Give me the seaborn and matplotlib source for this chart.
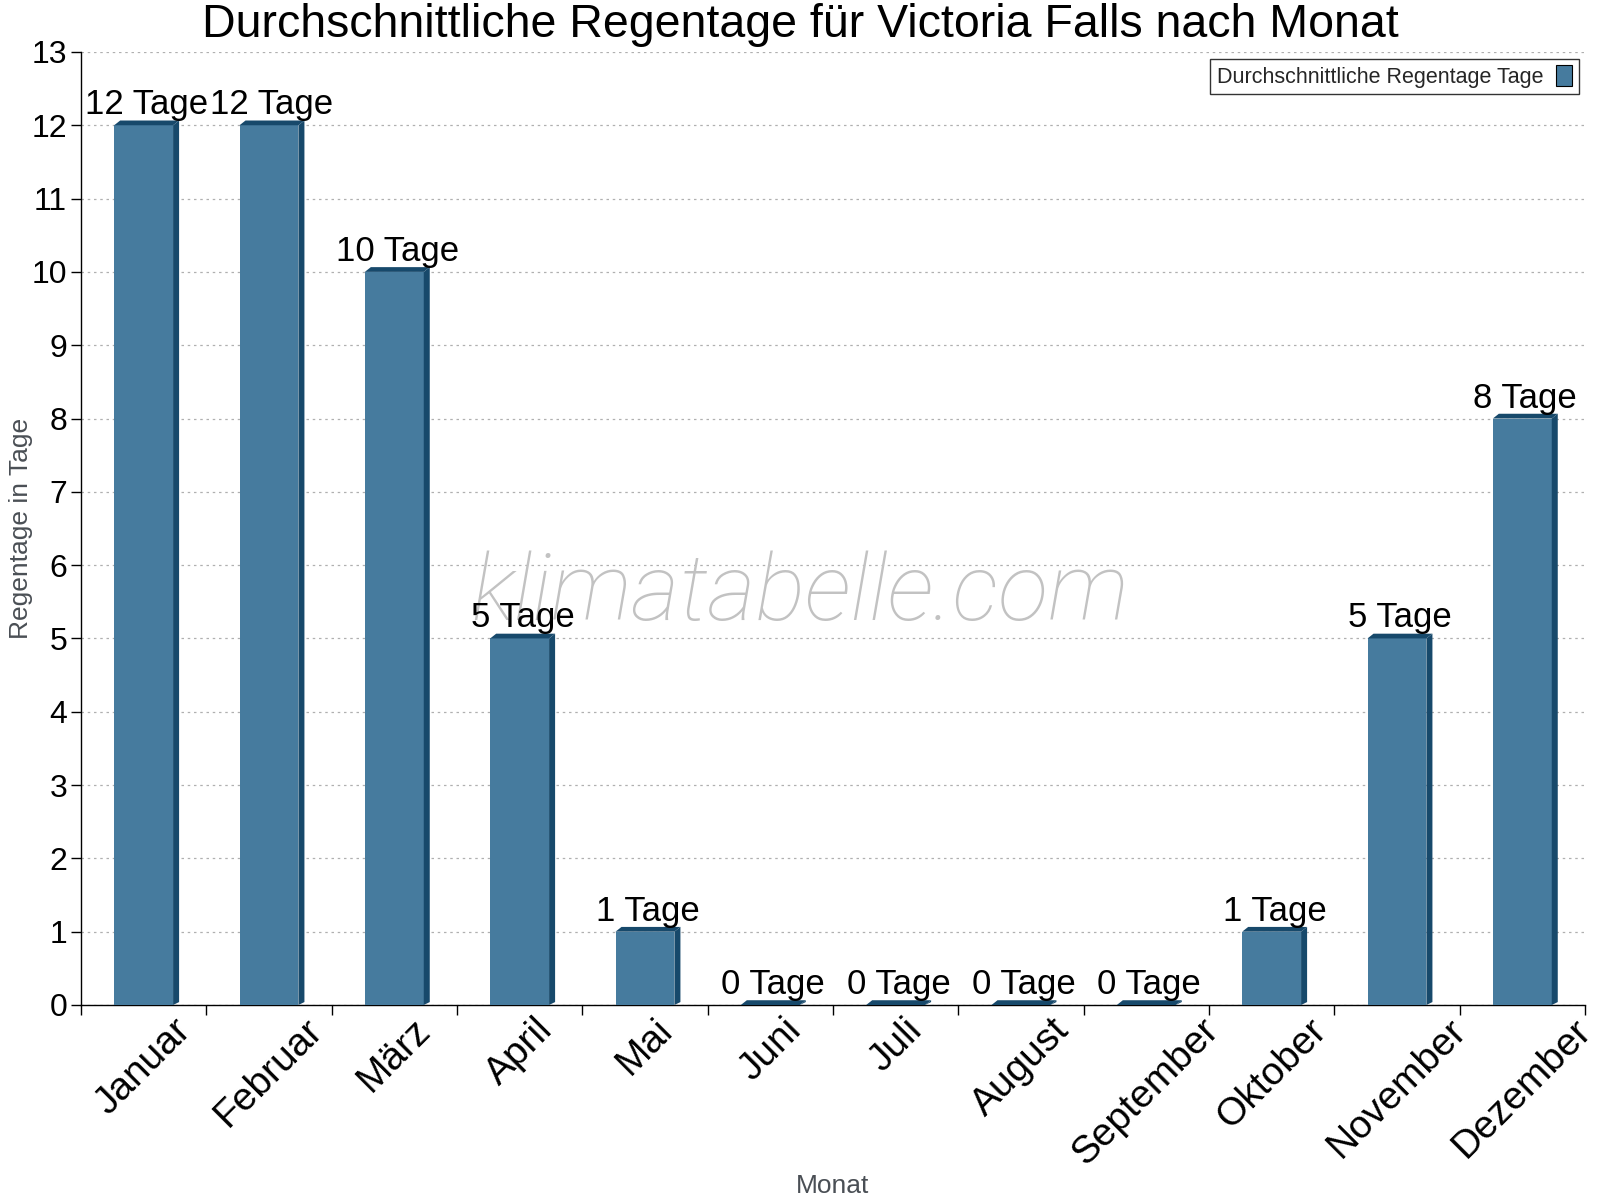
import matplotlib
matplotlib.use("Agg")
import matplotlib.pyplot as plt
import seaborn as sns
import pandas as pd
from matplotlib.patches import Polygon, Rectangle
from matplotlib.ticker import FixedLocator

sns.set_style("white")
plt.rcParams["font.family"] = ["Liberation Sans", "DejaVu Sans"]

months = ["Januar", "Februar", "März", "April", "Mai", "Juni", "Juli",
          "August", "September", "Oktober", "November", "Dezember"]
rain_days = [12, 12, 10, 5, 1, 0, 0, 0, 0, 1, 5, 8]
series_name = "Durchschnittliche Regentage Tage"

face = "#467b9e"
dark = "#17496b"

df = pd.DataFrame({"Monat": months, "Tage": rain_days})

fig = plt.figure(figsize=(16, 12), dpi=100)
ax = fig.add_axes([0.0506, 0.1625, 0.94, 0.7942])

# watermark sits behind bars and labels
ax.text(5.24, 5.25, "klimatabelle.com", fontsize=67, color="#c2c2c2",
        family=["Roboto", "DejaVu Sans"], fontweight=200, style="italic",
        ha="center", va="baseline", zorder=2)

sns.barplot(data=df, x="Monat", y="Tage", color=face, width=0.47,
            saturation=1, linewidth=0, ax=ax, zorder=3)

# 3d look: dark side on the right and a bevel on top
dx = 0.048
dy = 0.065
for bar, val in zip(ax.patches, rain_days):
    x0 = bar.get_x()
    w = bar.get_width()
    h = bar.get_height()
    side = Polygon([(x0 + w, 0), (x0 + w + dx, 0.04), (x0 + w + dx, h + dy),
                    (x0 + w, h)], closed=True, color=dark, zorder=3, lw=0)
    top = Polygon([(x0, h), (x0 + dx, h + dy), (x0 + w + dx, h + dy),
                   (x0 + w, h)], closed=True, color=dark, zorder=3, lw=0)
    ax.add_patch(side)
    ax.add_patch(top)
    ax.text(x0 + w / 2 + dx / 2, h + 0.15, f"{val} Tage", ha="center",
            va="baseline", fontsize=25, color="black", zorder=5)

ax.set_ylim(0, 13)
ax.set_xlim(-0.5, len(months) - 0.5)
ax.set_yticks(range(0, 14))
ax.tick_params(axis="y", labelsize=23, length=7, width=1, direction="out",
               left=True, color="black", labelcolor="black", pad=3)
ax.tick_params(axis="x", which="major", labelsize=28, length=0, pad=5,
               labelcolor="black")
ax.xaxis.set_minor_locator(FixedLocator([i - 0.5 for i in range(len(months) + 1)]))
ax.tick_params(axis="x", which="minor", length=7, width=1, bottom=True,
               direction="out", color="black")
for lbl in ax.get_xticklabels():
    lbl.set_rotation(45)
    lbl.set_ha("center")
    lbl.set_va("top")

ax.yaxis.grid(True, linestyle=(0, (2, 3)), color="#b0b0b0", lw=0.9, zorder=0)
ax.set_axisbelow(True)
for s in ["top", "right"]:
    ax.spines[s].set_visible(False)
for s in ["left", "bottom"]:
    ax.spines[s].set_color("black")
    ax.spines[s].set_linewidth(1)

ax.set_xlabel("Monat", fontsize=19, color="#4a4f55")
ax.set_ylabel("Regentage in Tage", fontsize=19, color="#4a4f55")
ax.xaxis.set_label_coords(0.5, -0.177)
ax.yaxis.set_label_coords(-0.032, 0.5)
fig.text(0.5, 0.969, "Durchschnittliche Regentage für Victoria Falls nach Monat",
         fontsize=33.5, color="black", ha="center", va="baseline")

handle = Rectangle((0, 0), 1, 1, facecolor=face, edgecolor="black", lw=0.8)
leg = ax.legend([handle], [series_name], loc="upper right", fontsize=15.5,
                markerfirst=False, frameon=True, fancybox=False,
                handlelength=0.75, handleheight=1.1, borderpad=0.3,
                handletextpad=0.6, borderaxespad=0,
                bbox_to_anchor=(0.996, 0.993))
leg.get_frame().set_edgecolor("black")
leg.get_frame().set_linewidth(1)

fig.savefig("out.png", dpi=100)
